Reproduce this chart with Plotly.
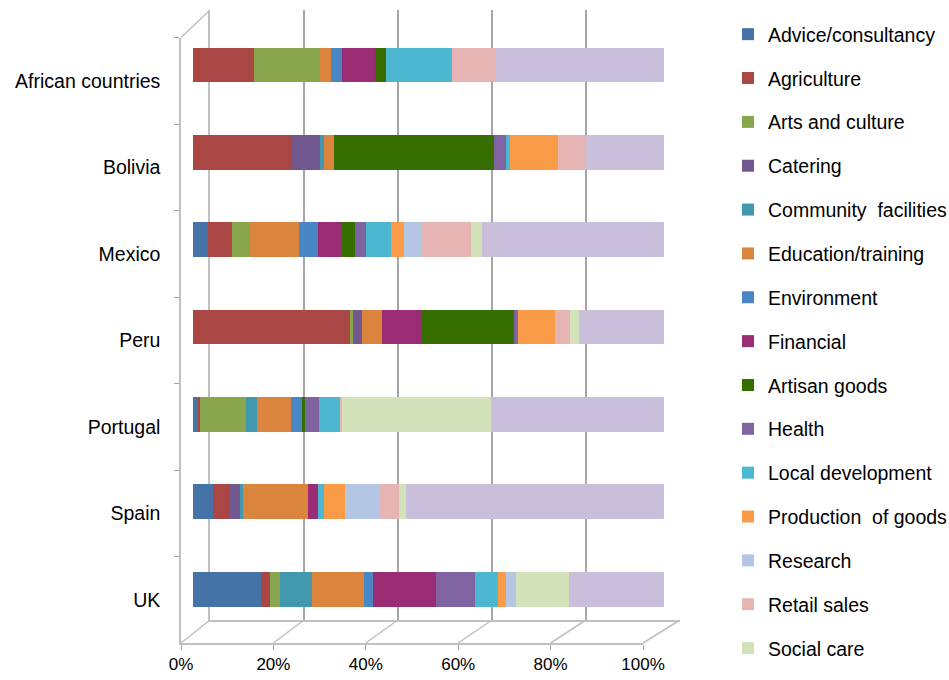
import plotly.graph_objects as go

countries = ["African countries", "Bolivia", "Mexico", "Peru", "Portugal", "Spain", "UK"]

advice      = [0.0, 0.0, 3.1, 0.0, 1.0, 4.3, 14.4]
agriculture = [13.0, 21.0, 5.2, 33.4, 0.5, 3.5, 1.9]
arts        = [13.9, 0.0, 3.8, 0.6, 9.8, 0.0, 2.2]
catering    = [0.0, 6.0, 0.0, 1.9, 0.0, 2.1, 0.0]
community   = [0.0, 0.8, 0.0, 0.0, 2.2, 0.8, 6.7]
education   = [2.4, 2.1, 10.4, 4.3, 7.4, 13.7, 11.0]
environment = [2.3, 0.0, 4.0, 0.0, 2.2, 0.0, 2.0]
financial   = [7.0, 0.0, 5.1, 8.3, 0.0, 2.1, 13.3]
artisan     = [2.3, 34.1, 2.7, 19.7, 0.6, 0.0, 0.0]
health      = [0.0, 2.5, 2.4, 0.7, 3.0, 0.0, 8.4]
local_dev   = [14.1, 0.8, 5.4, 0.0, 4.6, 1.4, 4.8]
production  = [0.0, 10.2, 2.7, 7.9, 0.0, 4.4, 1.7]
research    = [0.0, 0.0, 3.7, 0.0, 0.0, 7.3, 2.2]
retail      = [9.2, 6.0, 10.5, 3.2, 0.3, 4.1, 0.0]
social_care = [0.0, 0.0, 2.4, 1.9, 31.7, 1.6, 11.2]
other       = [35.8, 16.5, 38.6, 18.1, 36.7, 54.7, 20.2]

series = [
    ("Advice/consultancy", advice, "#4572A7", True),
    ("Agriculture", agriculture, "#AA4643", True),
    ("Arts and culture", arts, "#89A54E", True),
    ("Catering", catering, "#71588F", True),
    ("Community  facilities", community, "#4198AF", True),
    ("Education/training", education, "#DB843D", True),
    ("Environment", environment, "#4A86C5", True),
    ("Financial", financial, "#9A2C74", True),
    ("Artisan goods", artisan, "#376E00", True),
    ("Health", health, "#8064A2", True),
    ("Local development", local_dev, "#4DB6D0", True),
    ("Production  of goods", production, "#F99B47", True),
    ("Research", research, "#B3C6E4", True),
    ("Retail sales", retail, "#E6B4B2", True),
    ("Social care", social_care, "#D3E2B8", True),
    ("Other", other, "#CABFDA", False),
]

tick_vals = [0, 20, 40, 60, 80, 100]
tick_text = ["0%", "20%", "40%", "60%", "80%", "100%"]

W, H = 949, 680
FONT = "Liberation Sans"

fig = go.Figure()

# helper invisible traces so the frame axes render (drawn first -> underneath)
fig.add_trace(go.Scatter(x=[0, 100], y=[0, 1], mode="markers",
                         marker=dict(opacity=0), showlegend=False, hoverinfo="skip",
                         xaxis="x", yaxis="y"))
fig.add_trace(go.Scatter(x=[0] * len(countries), y=countries, mode="markers",
                         marker=dict(opacity=0), showlegend=False, hoverinfo="skip",
                         xaxis="x2", yaxis="y2"))

for i, (name, vals, col, show) in enumerate(series):
    fig.add_trace(go.Bar(
        y=countries, x=vals, name=name, orientation="h",
        marker=dict(color=col, line=dict(width=0)),
        showlegend=show, legendgroup=f"g{i}",
        xaxis="x3", yaxis="y3",
    ))

# domains (pixel-based)
bx = [193 / W, 664 / W]          # bar axis
backx = [210 / W, 680 / W]        # back wall
frontx = [181 / W, 643 / W]       # front floor
bary = [(H - 632.7) / H, (H - 21.3) / H]
fronty = [(H - 643) / H, (H - 37.5) / H]
backy = [(H - 620) / H, (H - 10) / H]

grid_col = "#A6A6A6"
frame_col = "#C0C0C0"
ncat = len(countries)

fig.update_layout(
    width=W, height=H,
    margin=dict(l=0, r=0, t=0, b=0, autoexpand=False),
    paper_bgcolor="white", plot_bgcolor="rgba(0,0,0,0)",
    barmode="stack", bargap=0.6,
    font=dict(family=FONT, size=18, color="#000000"),
    # back wall (gridlines)
    xaxis=dict(domain=backx, range=[0, 100], tickvals=tick_vals, showgrid=True,
               gridcolor=grid_col, gridwidth=2, showticklabels=False, zeroline=False,
               showline=True, linecolor=frame_col, linewidth=1.5, anchor="y",
               automargin=False),
    yaxis=dict(domain=backy, range=[0, 1], showgrid=False, showticklabels=False,
               zeroline=False, showline=True, linecolor=frame_col, linewidth=1.5,
               anchor="x", automargin=False),
    # front frame with labels
    xaxis2=dict(domain=frontx, range=[0, 100], tickvals=tick_vals, ticktext=tick_text,
                showgrid=False, zeroline=False, showline=True, linecolor=frame_col,
                linewidth=1.5, ticks="outside", ticklen=5, tickcolor="#A0A0A0",
                anchor="y2", tickfont=dict(size=17, color="#000"), automargin=False),
    yaxis2=dict(domain=fronty, type="category", categoryarray=countries,
                range=[ncat - 0.5, -0.5], showgrid=False, zeroline=False, showline=True,
                linecolor=frame_col, linewidth=1.5, ticks="outside", ticklen=5,
                tickcolor="#A0A0A0", tickson="boundaries", ticklabelstandoff=15,
                anchor="x2", tickfont=dict(size=19.5, color="#000"), automargin=False),
    # bars
    xaxis3=dict(domain=bx, range=[0, 100], showgrid=False, showticklabels=False,
                zeroline=False, anchor="y3", automargin=False),
    yaxis3=dict(domain=bary, type="category", categoryarray=countries,
                range=[ncat - 0.5, -0.5], showticklabels=False, showgrid=False,
                zeroline=False, anchor="x3", automargin=False),
    legend=dict(x=728 / W, y=1 - 15 / H, xanchor="left", yanchor="top",
                traceorder="grouped", tracegroupgap=15.5,
                font=dict(size=19.5, family=FONT, color="#000"),
                itemwidth=30, bgcolor="rgba(0,0,0,0)"),
)

# slanted floor connectors between front and back edges (decorative frame)
fy0 = fronty[0]
by0 = backy[0]
for v in tick_vals:
    xf = frontx[0] + (frontx[1] - frontx[0]) * v / 100
    xb = backx[0] + (backx[1] - backx[0]) * v / 100
    fig.add_shape(type="line", xref="paper", yref="paper",
                  x0=xf, y0=fy0, x1=xb, y1=by0,
                  line=dict(color=frame_col, width=1.5), layer="below")
fig.add_shape(type="line", xref="paper", yref="paper",
              x0=frontx[0], y0=fronty[1], x1=backx[0], y1=backy[1],
              line=dict(color=frame_col, width=1.5), layer="below")

fig.write_html("out.html")
